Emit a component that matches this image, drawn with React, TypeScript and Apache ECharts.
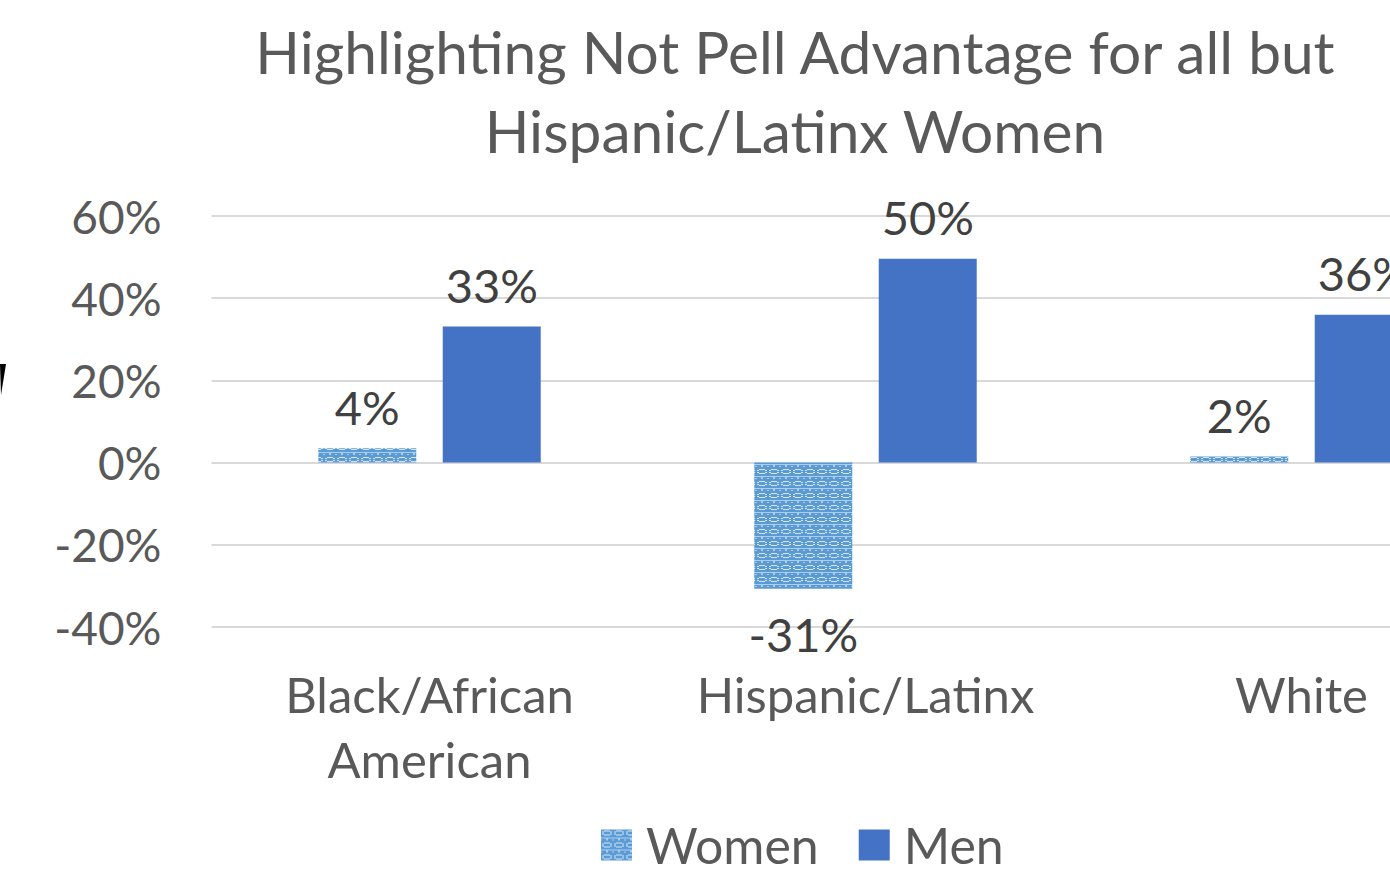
import React, { useEffect, useRef } from "react";
import * as echarts from "echarts";

const categories = ["Black/African\nAmerican", "Hispanic/Latinx", "White"];
const womenValues = [3.5, -30.7, 1.5];
const menValues = [33.1, 49.6, 36.0];
const yTicks = { min: -40, max: 60, interval: 20 };
const titleText = "Highlighting Not Pell Advantage for all but\nHispanic/Latinx Women";

function makePattern(): string {
  const c = document.createElement("canvas");
  c.width = 12;
  c.height = 12;
  const ctx = c.getContext("2d")!;
  ctx.fillStyle = "#5B9BD5";
  ctx.fillRect(0, 0, 12, 12);
  ctx.fillStyle = "rgba(255,255,255,0.75)";
  ctx.fillRect(3, 1, 6, 1);
  ctx.fillRect(1, 2, 2, 1);
  ctx.fillRect(9, 2, 2, 1);
  ctx.fillRect(1, 4, 2, 1);
  ctx.fillRect(9, 4, 2, 1);
  ctx.fillRect(3, 5, 6, 1);
  ctx.fillStyle = "rgba(255,255,255,0.5)";
  ctx.fillRect(0, 8, 12, 1);
  ctx.fillRect(5, 9, 2, 2);
  ctx.fillRect(0, 10, 1, 1);
  ctx.fillRect(11, 10, 1, 1);
  return c.toDataURL();
}

export default function App() {
  const ref = useRef<HTMLDivElement>(null);
  useEffect(() => {
    if (!ref.current) return;
    const chart = echarts.init(ref.current, undefined, { renderer: "svg" });
    const font = "Lato";
    const patternFill = { image: makePattern(), repeat: "repeat" } as any;
    const fmt = (p: any) => Math.round(p.value) + "%";
    chart.setOption({
      animation: false,
      backgroundColor: "#ffffff",
      title: {
        text: titleText,
        left: "center",
        top: 6,
        textStyle: {
          fontFamily: font,
          fontSize: 58.6,
          fontWeight: "normal",
          color: "#595959",
          lineHeight: 79,
        },
      },
      legend: {
        top: 820,
        left: 601,
        padding: 0,
        icon: "rect",
        itemWidth: 31,
        itemHeight: 31,
        itemGap: 40,
        textStyle: {
          fontFamily: font,
          fontSize: 50,
          color: "#595959",
          rich: { g: { width: 9 } },
        },
        formatter: (n: string) => "{g|}" + n,
        data: ["Women", "Men"],
      },
      grid: { left: 211.5, right: 70.5, top: 216, bottom: 244, containLabel: false },
      xAxis: {
        type: "category",
        data: categories,
        axisLine: { show: false, onZero: false },
        axisTick: { show: false },
        axisLabel: {
          fontFamily: font,
          fontSize: 49,
          lineHeight: 65,
          color: "#595959",
          margin: 34,
          interval: 0,
        },
      },
      yAxis: {
        type: "value",
        min: yTicks.min,
        max: yTicks.max,
        interval: yTicks.interval,
        axisLine: { show: false },
        axisTick: { show: false },
        splitLine: { lineStyle: { color: "#d9d9d9", width: 2 } },
        axisLabel: {
          fontFamily: font,
          fontSize: 46,
          color: "#595959",
          margin: 50,
          formatter: (v: number) => v + "%",
        },
      },
      series: [
        {
          name: "Women",
          type: "bar",
          barWidth: 98,
          barGap: "27%",
          itemStyle: { color: patternFill },
          data: womenValues.map((v) => ({
            value: v,
            label: { position: v < 0 ? "bottom" : "top", distance: v < 0 ? 22 : 18 },
          })),
          label: {
            show: true,
            fontFamily: font,
            fontSize: 47,
            color: "#404040",
            formatter: fmt,
          },
        },
        {
          name: "Men",
          type: "bar",
          barWidth: 98,
          barGap: "27%",
          itemStyle: { color: "#4472C4" },
          data: menValues.map((v) => ({
            value: v,
            label: { position: v < 0 ? "bottom" : "top", distance: v < 0 ? 22 : 18 },
          })),
          label: {
            show: true,
            fontFamily: font,
            fontSize: 47,
            color: "#404040",
            formatter: fmt,
          },
        },
      ],
      graphic: [
        {
          type: "polygon",
          shape: { points: [[0, 364], [6, 364], [1, 395]] },
          style: { fill: "#000000" },
        },
      ],
    });
    return () => chart.dispose();
  }, []);
  return (
    <div
      style={{
        position: "fixed",
        left: 0,
        top: 0,
        width: 1390,
        height: 871,
        overflow: "hidden",
        background: "#fff",
      }}
    >
      <div ref={ref} style={{ width: 1590, height: 871 }} />
    </div>
  );
}
